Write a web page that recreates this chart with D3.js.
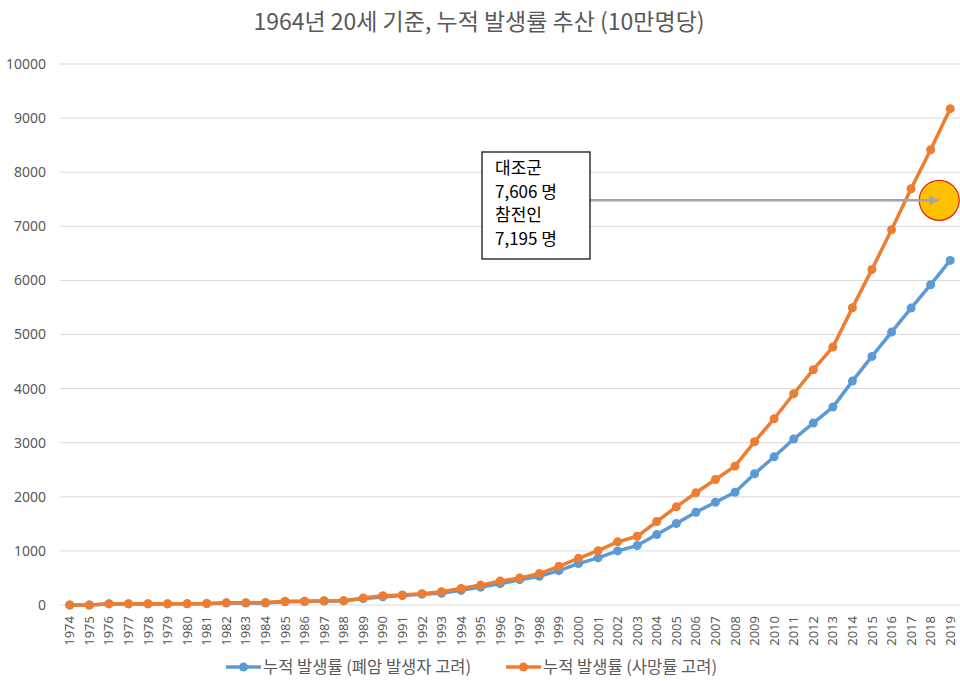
<!DOCTYPE html>
<html>
<head>
<meta charset="utf-8">
<script src="https://cdn.jsdelivr.net/npm/d3@7"></script>
<style>
  html, body { margin: 0; padding: 0; background: #fff; }
  svg { display: block; font-family: "Noto Sans CJK KR", "Noto Sans", sans-serif; }
</style>
</head>
<body>
<svg id="chart" width="960" height="681"></svg>
<script>
// Years on the category axis
const years = d3.range(1974, 2020).map(String);

// Cumulative incidence per 100,000, accounting for lung-cancer cases
const incidenceLungCancer = [
  0, 0, 20, 20, 20, 20, 22, 25, 35, 35,
  38, 60, 65, 72, 75, 118, 150, 175, 200, 215,
  270, 330, 394, 468, 530, 635, 765, 870, 1000, 1098,
  1302, 1506, 1715, 1900, 2085, 2426, 2740, 3068, 3362, 3658,
  4139, 4595, 5044, 5488, 5920, 6370
];

// Cumulative incidence per 100,000, accounting for mortality
const incidenceMortality = [
  0, 0, 25, 25, 25, 25, 25, 28, 43, 43,
  45, 68, 70, 80, 80, 130, 172, 184, 210, 245,
  307, 368, 444, 500, 580, 715, 863, 1005, 1167, 1270,
  1543, 1815, 2074, 2320, 2567, 3018, 3443, 3905, 4349, 4767,
  5495, 6203, 6937, 7695, 8416, 9174
];

const seriesNames = ["누적 발생률 (폐암 발생자 고려)", "누적 발생률 (사망률 고려)"];
const seriesColors = ["#5B9BD5", "#ED7D31"];

const yTicks = [0, 1000, 2000, 3000, 4000, 5000, 6000, 7000, 8000, 9000, 10000];

const titleText = "1964년 20세 기준, 누적 발생률 추산 (10만명당)";
const noteLines = ["대조군", "7,606 명", "참전인", "7,195 명"];
// Level pointed at by the annotation arrow
const noteLevel = 7480;

const svg = d3.select("#chart");
const W = 960;
const plot = { left: 60, right: 960, top: 64, bottom: 605 };

const x = d3.scaleBand().domain(years).range([plot.left, plot.right]);
const y = d3.scaleLinear().domain([0, 10000]).range([plot.bottom, plot.top]);
const cx = d => x(d) + x.bandwidth() / 2;

// Title
svg.append("text")
  .attr("x", W / 2 - 1).attr("y", 30)
  .attr("text-anchor", "middle")
  .attr("font-size", 23)
  .attr("fill", "#595959")
  .text(titleText);

// Horizontal gridlines
svg.append("g").selectAll("line").data(yTicks).join("line")
  .attr("x1", plot.left).attr("x2", plot.right)
  .attr("y1", d => y(d)).attr("y2", d => y(d))
  .attr("stroke", "#d9d9d9").attr("stroke-width", 1);

// Y axis labels
const yAxis = d3.axisLeft(y).tickValues(yTicks).tickSize(0).tickPadding(0).tickFormat(d3.format("d"));
svg.append("g")
  .attr("transform", `translate(${plot.left - 14},0)`)
  .call(yAxis)
  .call(g => g.select(".domain").remove())
  .call(g => g.selectAll("text")
    .attr("font-size", 14)
    .attr("fill", "#595959")
    .attr("font-family", "\"Noto Sans\", sans-serif"));

// X axis with rotated year labels
const xAxis = d3.axisBottom(x).tickSize(0).tickPadding(0);
svg.append("g")
  .attr("transform", `translate(0,${plot.bottom})`)
  .call(xAxis)
  .call(g => g.select(".domain").remove())
  .call(g => g.selectAll("text")
    .attr("font-size", 13)
    .attr("fill", "#595959")
    .attr("font-family", "\"Noto Sans\", sans-serif")
    .attr("text-anchor", "end")
    .attr("dy", "0.35em")
    .attr("transform", "translate(0,11) rotate(-90)")
    .attr("x", 0).attr("y", 0));

// Series lines and markers
const allSeries = [incidenceLungCancer, incidenceMortality];
const line = d3.line().x((d, i) => cx(years[i])).y(d => y(d));

allSeries.forEach((vals, s) => {
  const g = svg.append("g");
  g.append("path")
    .datum(vals)
    .attr("d", line)
    .attr("fill", "none")
    .attr("stroke", seriesColors[s])
    .attr("stroke-width", 3.5)
    .attr("stroke-linejoin", "round");
  g.selectAll("circle").data(vals).join("circle")
    .attr("cx", (d, i) => cx(years[i]))
    .attr("cy", d => y(d))
    .attr("r", 4.5)
    .attr("fill", seriesColors[s]);
});

// Annotation: highlighted circle, arrow and text box
const markYear = "2019";
const markX = cx(markYear) - 11;
svg.append("circle")
  .attr("cx", markX).attr("cy", y(noteLevel))
  .attr("r", 20)
  .attr("fill", "#FFC000")
  .attr("stroke", "#E0201B").attr("stroke-width", 1.2);

const defs = svg.append("defs");
defs.append("marker")
  .attr("id", "arrowHead")
  .attr("viewBox", "0 0 10 10")
  .attr("refX", 9).attr("refY", 5)
  .attr("markerWidth", 4).attr("markerHeight", 4)
  .attr("markerUnits", "strokeWidth")
  .attr("orient", "auto")
  .append("path").attr("d", "M0,0 L10,5 L0,10 Z").attr("fill", "#A5A5A5");

const box = { x: 482, y: 152, w: 108, h: 107 };
svg.append("line")
  .attr("x1", box.x + box.w).attr("y1", y(noteLevel))
  .attr("x2", markX - 1).attr("y2", y(noteLevel))
  .attr("stroke", "#A5A5A5").attr("stroke-width", 2.5)
  .attr("marker-end", "url(#arrowHead)");

svg.append("rect")
  .attr("x", box.x).attr("y", box.y)
  .attr("width", box.w).attr("height", box.h)
  .attr("fill", "#fff").attr("stroke", "#000").attr("stroke-width", 1.2);

svg.append("g").selectAll("text").data(noteLines).join("text")
  .attr("x", box.x + 13)
  .attr("y", (d, i) => box.y + 22 + i * 23.5)
  .attr("font-size", 17)
  .attr("fill", "#000")
  .text(d => d);

// Legend
const legendX = [226, 506];
const legendY = 667;
const lg = svg.append("g");
seriesNames.forEach((name, s) => {
  const g = lg.append("g").attr("transform", `translate(${legendX[s]},${legendY})`);
  g.append("line").attr("x1", 0).attr("x2", 35).attr("y1", 0).attr("y2", 0)
    .attr("stroke", seriesColors[s]).attr("stroke-width", 3.5);
  g.append("circle").attr("cx", 17.5).attr("cy", 0).attr("r", 4.5).attr("fill", seriesColors[s]);
  g.append("text").attr("x", 37).attr("y", 0).attr("dy", "0.35em")
    .attr("font-size", 16.5).attr("fill", "#595959").text(name);
});
</script>
</body>
</html>
